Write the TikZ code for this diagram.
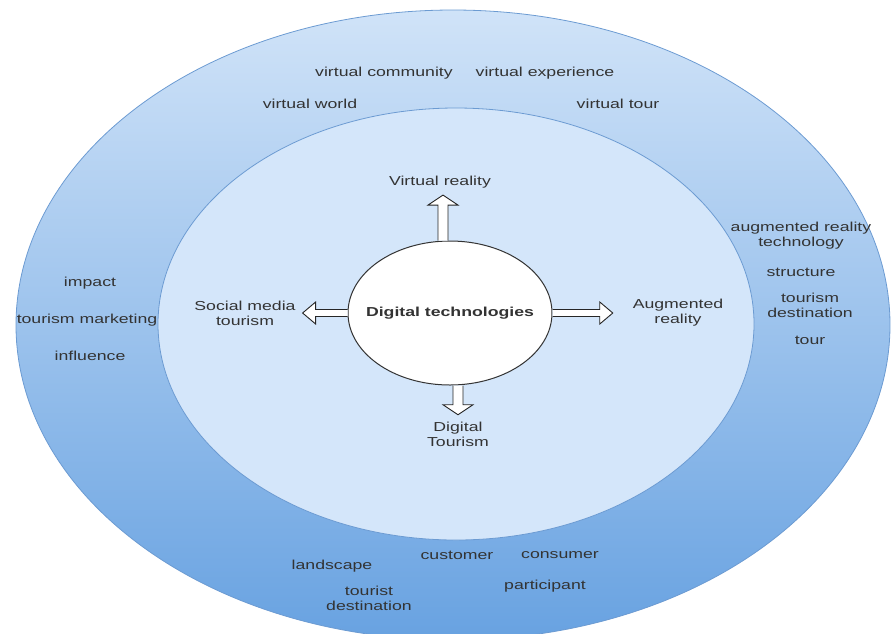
\documentclass[tikz,border=0pt]{standalone}
\usepackage{fontspec}
\setmainfont{Liberation Sans}[FakeStretch=1.36]
\usepackage{tikz}
\usetikzlibrary{shapes.geometric}
\usetikzlibrary{calc}

\definecolor{ringtop}{RGB}{208,227,248}
\definecolor{ringbottom}{RGB}{104,162,225}
\definecolor{corefill}{RGB}{212,230,250}
\definecolor{edgeblue}{RGB}{108,155,210}
\definecolor{labelgray}{RGB}{51,51,51}

\begin{document}
\begin{tikzpicture}[x=1pt, y=-1pt,
    word/.style={text=labelgray,
    font=\fontsize{13}{15}\selectfont,
    align=center,
    inner sep=1pt},
    armlabel/.style={word, outer sep=6pt},
    flexarrow/.style n args={3}{draw=black!85, fill=white, line width=0.9pt, line join=miter,
    to path={let \p1=(\tikztostart), \p2=(\tikztotarget),
    \n1={atan2(\y2-\y1,\x2-\x1)}, \n2={veclen(\x2-\x1,\y2-\y1)} in
    {[shift={(\p1)}, rotate=\n1]
    (0pt,-#1) -- (\n2-#3,-#1) -- (\n2-#3,-#2) -- (\n2,0pt) -- (\n2-#3,#2) -- (\n2-#3,#1) -- (0pt,#1)}}}]
    \useasboundingbox (0,0) rectangle (891,633);
    \clip (0,0) rectangle (891,633);
    % the two rings
    \draw[edgeblue, line width=0.8pt, top color=ringtop, bottom color=ringbottom]
    (453,325) ellipse [x radius=437, y radius=315];
    \draw[edgeblue, line width=0.8pt, fill=corefill]
    (456,324) ellipse [x radius=298, y radius=216];
    % centre
    \node (dt) [ellipse,
    draw=black!80,
    line width=1pt,
    fill=white,
    inner sep=0pt,
    minimum width=204pt,
    minimum height=144pt,
    text=labelgray,
    font=\bfseries\fontsize{13}{15}\selectfont] at (450,313) {\makebox[0pt]{Digital technologies}};
    % inner ring
    \node (vr) [armlabel] at (440,182) {Virtual reality};
    \node (ar) [armlabel] at (678,313) {Augmented\\reality};
    \node (dtour) [armlabel] at (458,434) {Digital\\Tourism};
    \node (smt) [armlabel] at (245,313) {Social media\\tourism};
    \draw[flexarrow={5pt}{15pt}{10pt}] ([xshift=-7pt]dt.north) to ([xshift=-7pt]dt.north |- vr.south);
    \draw[flexarrow={5pt}{15pt}{10pt}] ([xshift=8pt]dt.south) to ([xshift=8pt]dt.south |- dtour.north);
    \draw[flexarrow={3.5pt}{11pt}{13pt}] (dt.east) to ([xshift=-13pt]ar.west);
    \draw[flexarrow={3.5pt}{11pt}{13pt}] (dt.west) to (smt.east);
    % outer ring, top
    \node (vcomm) [word] at (384,73) {virtual community};
    \node (vexp) [word] at (545,73) {virtual experience};
    \node (vworld) [word] at (310,104) {virtual world};
    \node (vtour) [word] at (618,104) {virtual tour};
    % outer ring, right
    \node (artech) [word] at (801,236) {augmented reality\\technology};
    \node (struct) [word] at (801,272) {structure};
    \node (tdest) [word] at (810,305) {tourism\\destination};
    \node (tour) [word] at (810,340) {tour};
    % outer ring, left
    \node (impact) [word] at (90,283) {impact};
    \node (tmark) [word] at (87,320) {tourism marketing};
    \node (infl) [word] at (90,356) {influence};
    % outer ring, bottom
    \node (land) [word] at (332,566) {landscape};
    \node (cust) [word] at (457,555) {customer};
    \node (cons) [word] at (560,555) {consumer};
    \node (tourd) [word] at (369,598) {tourist\\destination};
    \node (part) [word] at (545,586) {participant};
\end{tikzpicture}
\end{document}
